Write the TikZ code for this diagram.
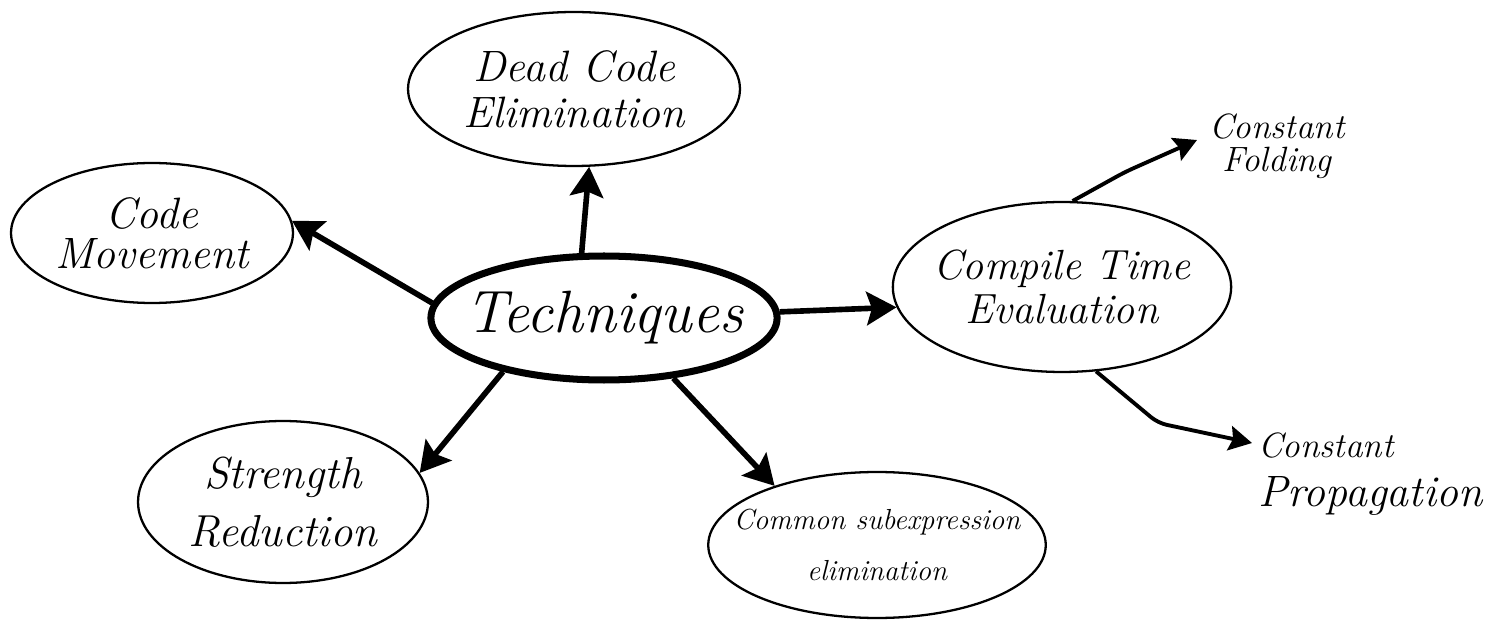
\documentclass[tikz,border=0pt]{standalone}
\usetikzlibrary{arrows.meta,shapes.geometric}
\begin{document}
\begin{tikzpicture}[x=0.02cm,y=-0.02cm,
  bub/.style={ellipse, draw, line width=1.3pt, inner sep=0pt, align=center},
  arr/.style={line width=3.2pt, -{Stealth[length=17pt,width=19pt,inset=3pt]}},
  tarr/.style={line width=2.2pt, rounded corners=5pt, -{Stealth[length=13pt,width=14pt,inset=2pt]}},
  lab/.style={inner sep=0pt}]
\path[fill=white] (0,0) rectangle (1494,621);
\useasboundingbox (0,0) rectangle (1494,621);

\node[bub, line width=4pt, inner xsep=-0.33cm, minimum width=6.92cm, minimum height=2.48cm,
  font=\itshape\fontsize{34}{36}\selectfont] (tech) at (604,318) {Techniques};
\node[bub, minimum width=6.64cm, minimum height=3.08cm,
  font=\itshape\fontsize{25}{26}\selectfont] (dead) at (574,89) {Dead Code\\Elimination};
\node[bub, minimum width=5.64cm, minimum height=2.80cm,
  font=\itshape\fontsize{25}{23}\selectfont] (code) at (152,233) {Code\\Movement};
\node[bub, minimum width=5.80cm, minimum height=3.24cm,
  font=\itshape\fontsize{25.5}{33}\selectfont] (str) at (283,502) {Strength\\Reduction};
\node[bub, inner xsep=-0.18cm, minimum width=6.60cm, minimum height=3.40cm,
  font=\itshape\fontsize{24}{25}\selectfont] (comp) at (1062,287) {Compile Time\\Evaluation};
\node[bub, inner xsep=-0.48cm, minimum width=6.64cm, minimum height=2.92cm,
  font=\itshape\fontsize{16.5}{29}\selectfont] (cse) at (877,545) {Common subexpression\\elimination};

\node[lab, align=center, font=\itshape\fontsize{20}{19}\selectfont] (fold) at (1277,146) {Constant\\Folding};
\node[lab, align=left, anchor=west, font=\itshape\fontsize{20}{28}\selectfont] (prop) at (1258,474)
  {Constant\\{\fontsize{25}{28}\selectfont Propagation}};

\draw[arr] (tech.109) -- (dead.-79);
\draw[arr] (tech.175) -- (code.5);
\draw[arr] (tech.2) -- (comp.187);
\draw[arr] (tech.208) -- (str.12);
\draw[arr] (tech.-41) -- (cse.150);

\coordinate (fbend) at (1125,172);
\coordinate (foldtip) at (1197,140);
\draw[tarr] (comp.83) -- (fbend) -- (foldtip);
\coordinate (pbend) at (1158,423);
\coordinate (proptip) at (1252,443);
\draw[tarr] (comp.-68) -- (pbend) -- (proptip);
\end{tikzpicture}
\end{document}
